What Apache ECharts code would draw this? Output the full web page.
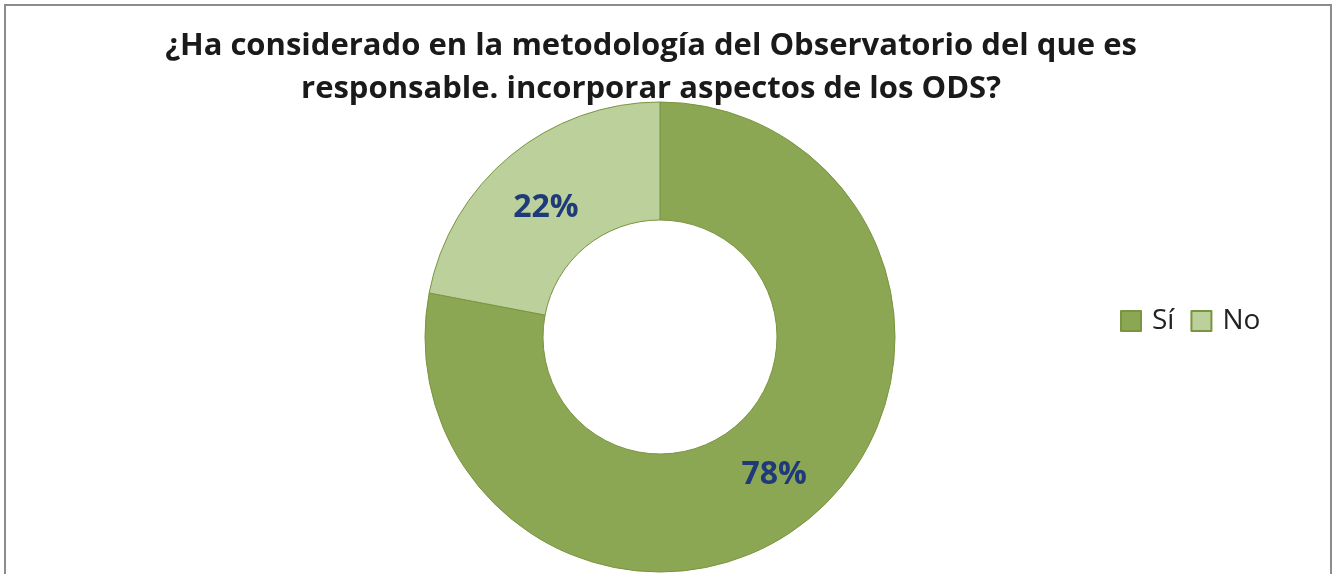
<!DOCTYPE html>
<html style="height: 100%">
<head>
	<meta charset="utf-8">
</head>
<body style="height: 100%; margin: 0; background: #fff">
<div id="container" style="width: 1334px; height: 574px"></div>
<script type="text/javascript" src="https://cdn.jsdelivr.net/npm/echarts@6/dist/echarts.min.js"></script>
<script type="text/javascript">
    var dom = document.getElementById("container");
    var myChart = echarts.init(dom);

    var categories = ['Sí', 'No'];
    var values = [78, 22];
    var colors = ['#8BA753', '#BBD09A'];
    var titleText = '¿Ha considerado en la metodología del Observatorio del que es\nresponsable. incorporar aspectos de los ODS?';

    var pieData = [];
    for (var i = 0; i < categories.length; i++) {
        pieData.push({
            name: categories[i],
            value: values[i],
            itemStyle: { color: colors[i] },
            // the small slice's label sits a bit lower in the original
            label: { offset: i === 1 ? [0, 9] : [0, 0] }
        });
    }

    var option = {
        backgroundColor: '#fff',
        animation: false,
        title: {
            text: titleText,
            left: 646,
            top: 20,
            textAlign: 'center',
            textStyle: {
                fontFamily: 'Open Sans',
                fontWeight: 'bold',
                fontSize: 31,
                lineHeight: 43,
                color: '#1a1a1a'
            }
        },
        legend: {
            data: categories,
            orient: 'horizontal',
            left: 1115,
            top: 302,
            itemWidth: 20,
            itemHeight: 20,
            itemGap: 16,
            icon: 'rect',
            textStyle: {
                fontFamily: 'Open Sans',
                fontSize: 28,
                color: '#222',
                padding: [0, 0, 0, 6]
            }
        },
        graphic: [{
            type: 'rect',
            shape: { x: 5, y: 5, width: 1326, height: 600 },
            style: { fill: 'none', stroke: '#8c8c8c', lineWidth: 2 },
            silent: true
        }],
        series: [{
            name: 'ODS',
            type: 'pie',
            center: [660, 337],
            radius: [117, 235],
            startAngle: 90,
            clockwise: true,
            avoidLabelOverlap: false,
            itemStyle: {
                borderColor: '#7a9540',
                borderWidth: 1
            },
            label: {
                show: true,
                position: 'inside',
                formatter: '{c}%',
                fontFamily: 'Open Sans',
                fontWeight: 'bold',
                fontSize: 32,
                color: '#1F3A78'
            },
            labelLine: { show: false },
            emphasis: { disabled: true },
            data: pieData
        }]
    };

    myChart.setOption(option, true);
</script>
</body>
</html>
